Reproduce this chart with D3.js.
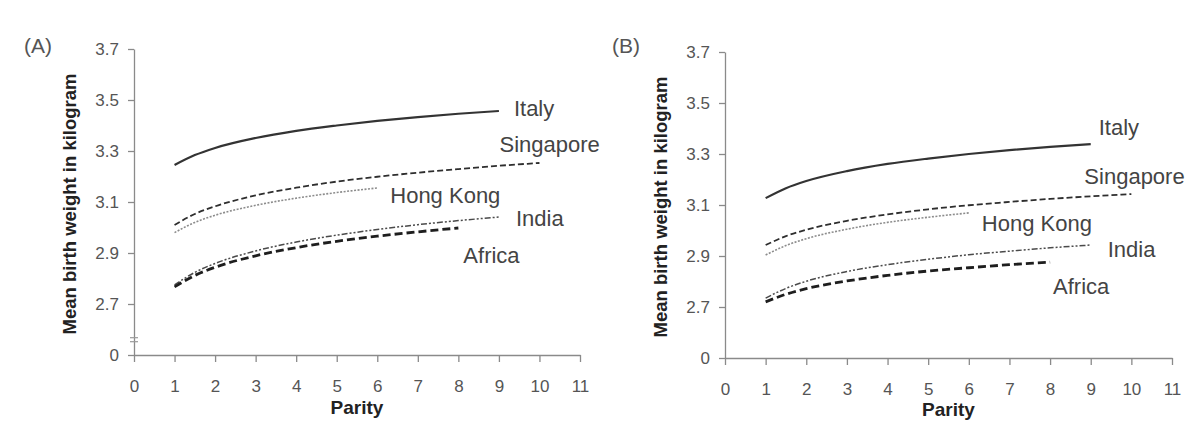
<!DOCTYPE html>
<html lang="en">
<head>
    <meta charset="UTF-8">
    <title>Mean birth weight by parity</title>
    <script src="https://d3js.org/d3.v7.min.js"></script>
    <style>
        body { margin: 0; background: #fff; }
        svg { display: block; font-family: "Liberation Sans", Arial, sans-serif; }
        .axis path, .axis line { fill: none; stroke: #8a8a8a; stroke-width: 1.3; }
        .axis text { font-size: 17px; fill: #555; font-family: "Liberation Sans", Arial, sans-serif; }
        .ytitle { font-size: 18.5px; font-weight: bold; fill: #222; }
        .xtitle { font-size: 19px; font-weight: bold; fill: #222; }
        .panel { font-size: 21px; fill: #555; }
        .country { font-size: 22px; fill: #444; }
        .series { fill: none; }
    </style>
</head>
<body>
    <svg id="chart" width="1200" height="438"></svg>

    <script>
        // Data
        var countries = ["Italy", "Singapore", "Hong Kong", "India", "Africa"];
        var parity = [1, 1.5, 2, 3, 4, 5, 6, 7, 8, 9, 10];
        var xTicks = [0, 1, 2, 3, 4, 5, 6, 7, 8, 9, 10, 11];
        // axis is broken: the lowest tick stands for 0
        var yTicks = [2.5, 2.7, 2.9, 3.1, 3.3, 3.5, 3.7];
        var yTickLabels = ["0", "2.7", "2.9", "3.1", "3.3", "3.5", "3.7"];

        // panel (A)
        var italyA     = [3.245, 3.284, 3.312, 3.351, 3.379, 3.400, 3.418, 3.433, 3.446, 3.457];
        var singaporeA = [3.010, 3.053, 3.083, 3.126, 3.156, 3.180, 3.199, 3.215, 3.229, 3.242, 3.253];
        var hongKongA  = [2.980, 3.020, 3.048, 3.087, 3.115, 3.137, 3.155];
        var indiaA     = [2.775, 2.824, 2.859, 2.908, 2.943, 2.970, 2.992, 3.011, 3.027, 3.041];
        var africaA    = [2.767, 2.812, 2.844, 2.889, 2.921, 2.946, 2.966, 2.983, 2.998];

        // panel (B)
        var italyB     = [3.127, 3.166, 3.194, 3.233, 3.261, 3.282, 3.300, 3.315, 3.328, 3.339];
        var singaporeB = [2.943, 2.978, 3.003, 3.038, 3.063, 3.083, 3.099, 3.112, 3.124, 3.134, 3.143];
        var hongKongB  = [2.904, 2.941, 2.968, 3.005, 3.032, 3.052, 3.069];
        var indiaB     = [2.735, 2.773, 2.801, 2.839, 2.866, 2.887, 2.905, 2.919, 2.932, 2.943];
        var africaB    = [2.720, 2.750, 2.772, 2.802, 2.824, 2.841, 2.854, 2.866, 2.876];

        // line styles per country
        var styles = {
            "Italy":     { color: "#333", width: 2.2, dash: null },
            "Singapore": { color: "#2e2e2e", width: 1.8, dash: "6,3" },
            "Hong Kong": { color: "#8c8c8c", width: 1.6, dash: "2,1.5" },
            "India":     { color: "#4a4a4a", width: 1.5, dash: "6,2,2,2,2,2" },
            "Africa":    { color: "#1e1e1e", width: 2.8, dash: "8,4" }
        };

        var panels = [
            {
                label: "(A)", labelX: 24, labelY: 53,
                left: 134, right: 580, top: 49, bottom: 355,
                titleX: 76, parityY: 414, brk: true,
                series: [italyA, singaporeA, hongKongA, indiaA, africaA],
                offsets: [[15, 5], [-40, -11], [13, 15], [17, 9], [5, 35]]
            },
            {
                label: "(B)", labelX: 612, labelY: 53,
                left: 725, right: 1172, top: 52, bottom: 358,
                titleX: 667, parityY: 416, brk: false,
                series: [italyB, singaporeB, hongKongB, indiaB, africaB],
                offsets: [[8, -9], [-47, -10], [13, 18], [17, 12], [3, 32]]
            }
        ];

        var svg = d3.select("#chart");

        panels.forEach(function (p) {
            var x = d3.scaleLinear().domain([0, 11]).range([p.left, p.right]);
            var y = d3.scaleLinear().domain([2.5, 3.7]).range([p.bottom, p.top]);

            // y axis
            svg.append("g")
                .attr("class", "axis")
                .attr("transform", "translate(" + p.left + ",0)")
                .call(d3.axisLeft(y)
                    .tickValues(yTicks)
                    .tickSize(6)
                    .tickSizeOuter(0)
                    .tickPadding(9)
                    .tickFormat(function (d, i) { return yTickLabels[i]; }));

            // x axis
            svg.append("g")
                .attr("class", "axis")
                .attr("transform", "translate(0," + p.bottom + ")")
                .call(d3.axisBottom(x)
                    .tickValues(xTicks)
                    .tickSize(7)
                    .tickSizeOuter(0)
                    .tickPadding(18)
                    .tickFormat(d3.format("d")));

            // little break mark on the y axis
            if (p.brk) {
                [-2, 2].forEach(function (o) {
                    svg.append("line")
                        .attr("x1", p.left - 4).attr("x2", p.left + 4)
                        .attr("y1", y(2.56) + o).attr("y2", y(2.56) + o)
                        .attr("stroke", "#999").attr("stroke-width", 1.2);
                });
            }

            // curves
            var line = d3.line()
                .x(function (d) { return x(d[0]); })
                .y(function (d) { return y(d[1]); })
                .curve(d3.curveMonotoneX);

            p.series.forEach(function (vals, i) {
                var st = styles[countries[i]];
                var pts = vals.map(function (v, j) { return [parity[j], v]; });
                svg.append("path")
                    .datum(pts)
                    .attr("class", "series")
                    .attr("d", line)
                    .attr("stroke", st.color)
                    .attr("stroke-width", st.width)
                    .attr("stroke-dasharray", st.dash);

                var last = pts[pts.length - 1];
                svg.append("text")
                    .attr("class", "country")
                    .attr("x", x(last[0]) + p.offsets[i][0])
                    .attr("y", y(last[1]) + p.offsets[i][1])
                    .text(countries[i]);
            });

            // titles
            svg.append("text")
                .attr("class", "panel")
                .attr("x", p.labelX)
                .attr("y", p.labelY)
                .text(p.label);

            svg.append("text")
                .attr("class", "ytitle")
                .attr("transform", "rotate(-90)")
                .attr("x", -(p.top + p.bottom) / 2 - 2)
                .attr("y", p.titleX)
                .attr("text-anchor", "middle")
                .text("Mean birth weight in kilogram");

            svg.append("text")
                .attr("class", "xtitle")
                .attr("x", (p.left + p.right) / 2)
                .attr("y", p.parityY)
                .attr("text-anchor", "middle")
                .text("Parity");
        });
    </script>
</body>
</html>
